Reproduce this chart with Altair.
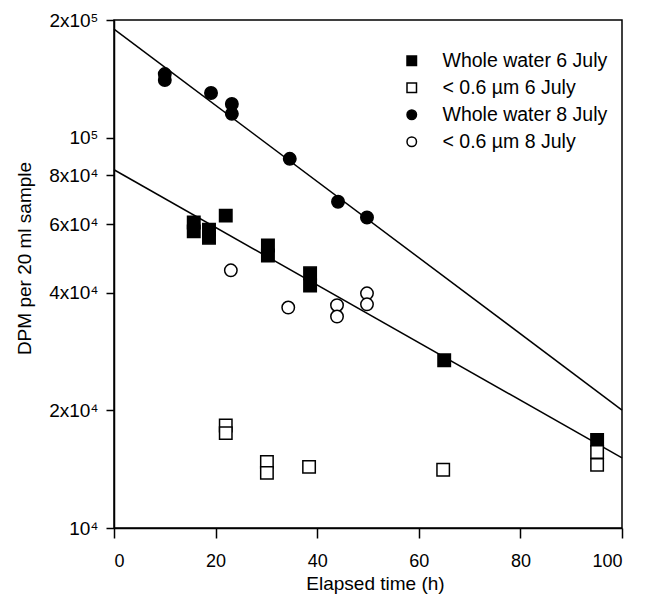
import altair as alt
import pandas as pd

FONT = "Liberation Sans"

series_names = ["Whole water 6 July", "< 0.6 µm 6 July", "Whole water 8 July", "< 0.6 µm 8 July"]
series_shapes = ["square", "square", "circle", "circle"]
series_fills = ["black", "white", "black", "white"]
series_strokes = ["black", "black", "black", "black"]

# Whole water 6 July (filled squares)
ww6_t = [15.7, 15.7, 18.7, 18.7, 22.0, 30.3, 30.3, 38.6, 38.6, 65.0, 95.1]
ww6_v = [60600, 57500, 58100, 55400, 63100, 52900, 49900, 44900, 41800, 26900, 16800]
# < 0.6 um 6 July (open squares)
f6_t = [22.0, 22.0, 30.1, 30.1, 38.4, 64.8, 95.1, 95.1]
f6_v = [18300, 17500, 14770, 13840, 14340, 14100, 15660, 14510]
# Whole water 8 July (filled circles)
ww8_t = [10.0, 10.0, 19.1, 23.2, 23.2, 34.6, 44.1, 49.8]
ww8_v = [145400, 140400, 130000, 121900, 115000, 88200, 68500, 62400]
# < 0.6 um 8 July (open circles)
f8_t = [23.0, 34.3, 43.9, 43.9, 49.8, 49.8]
f8_v = [45700, 36700, 37200, 34800, 39900, 37400]

# fitted lines (end points)
fit_name = ["8 July fit", "8 July fit", "6 July fit", "6 July fit"]
fit_t = [0, 100, 0, 100]
fit_v = [189500, 20050, 82700, 15120]

y_ticks = [10000, 20000, 40000, 60000, 80000, 100000, 200000]
y_labels = ["10⁴", "2x10⁴", "4x10⁴", "6x10⁴", "8x10⁴", "10⁵", "2x10⁵"]
x_ticks = [0, 20, 40, 60, 80, 100]

rows = []
for name, ts, vs in [
    (series_names[0], ww6_t, ww6_v),
    (series_names[1], f6_t, f6_v),
    (series_names[2], ww8_t, ww8_v),
    (series_names[3], f8_t, f8_v),
]:
    for t, v in zip(ts, vs):
        rows.append({"series": name, "t": t, "v": v})
pts = pd.DataFrame(rows)
lines = pd.DataFrame({"fit": fit_name, "t": fit_t, "v": fit_v})

label_expr = ""
for val, lab in zip(y_ticks, y_labels):
    label_expr += f"datum.value == {val} ? '{lab}' : "
label_expr += "''"

xscale = alt.Scale(domain=[0, 100], nice=False)
yscale = alt.Scale(type="log", domain=[10000, 200000], nice=False)

xaxis = alt.Axis(values=x_ticks, title="Elapsed time (h)", grid=False, tickSize=10,
                 labelPadding=14, labelFontSize=18, titleFontSize=19, titleFontWeight="normal",
                 titleX=261, titleY=61, titleBaseline="alphabetic", titleAnchor="middle",
                 domainColor="black", tickColor="black", labelColor="black", titleColor="black",
                 domainWidth=1.5, tickWidth=1.5, labelFont=FONT, titleFont=FONT)
yaxis = alt.Axis(values=y_ticks, labelExpr=label_expr, title="DPM per 20 ml sample", grid=False,
                 tickSize=8, labelPadding=8, labelFontSize=19, titleFontSize=19, titleFontWeight="normal",
                 titleX=-90, titleY=238, titleBaseline="middle", titleAngle=-90, titleAlign="center",
                 domainColor="black", tickColor="black", labelColor="black", titleColor="black",
                 domainWidth=1.5, tickWidth=1.5, labelFont=FONT, titleFont=FONT)

legend = alt.Legend(title=None, orient="none", legendX=288, legendY=31, padding=0,
                    labelFontSize=19.5, labelFont=FONT, labelColor="black", labelOffset=21,
                    rowPadding=6, symbolSize=90, symbolStrokeWidth=1.5,
                    labelLimit=400)

points = alt.Chart(pts).mark_point(filled=True, strokeWidth=1.5, size=155, opacity=1).encode(
    x=alt.X("t:Q", scale=xscale, axis=xaxis),
    y=alt.Y("v:Q", scale=yscale, axis=yaxis),
    shape=alt.Shape("series:N", scale=alt.Scale(domain=series_names, range=series_shapes), legend=legend),
    fill=alt.Fill("series:N", scale=alt.Scale(domain=series_names, range=series_fills), legend=legend),
    stroke=alt.Stroke("series:N", scale=alt.Scale(domain=series_names, range=series_strokes), legend=legend),
)

fit = alt.Chart(lines).mark_line(color="black", strokeWidth=1.5).encode(
    x=alt.X("t:Q", scale=xscale),
    y=alt.Y("v:Q", scale=yscale),
    detail="fit:N",
)

chart = alt.layer(fit, points).properties(
    width=508, height=508,
    autosize=alt.AutoSizeParams(type="none"),
    padding={"left": 106, "top": 12, "right": 22, "bottom": 68},
    background="white",
).configure_view(stroke="black", strokeWidth=1.5)

chart.save("out.html", embed_options={"renderer": "svg", "actions": False})
